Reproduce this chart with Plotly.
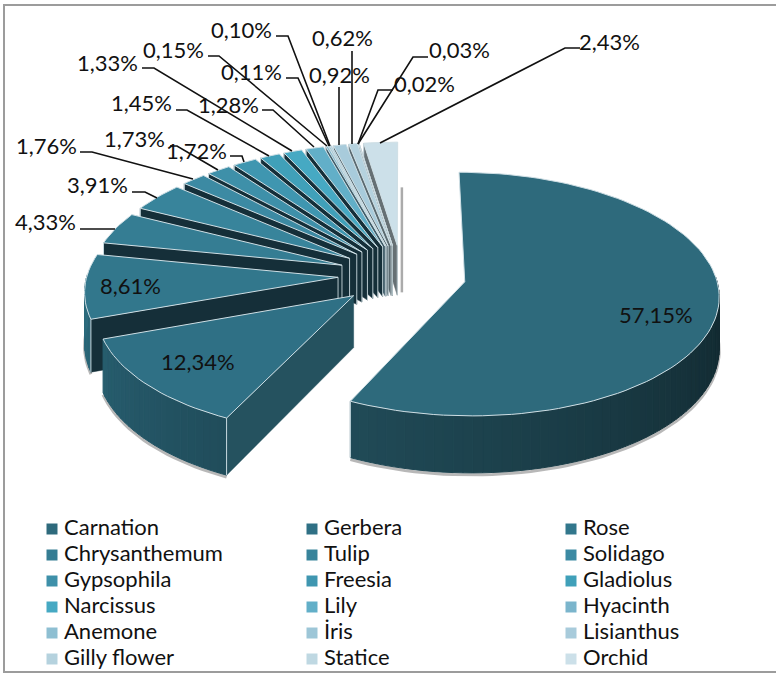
import math
import plotly.graph_objects as go

# ---------- data ----------
categories = ["Carnation", "Gerbera", "Rose", "Chrysanthemum", "Tulip", "Solidago",
              "Gypsophila", "Freesia", "Gladiolus", "Narcissus", "Lily", "Hyacinth",
              "Anemone", "İris", "Lisianthus", "Gilly flower", "Statice", "Orchid"]
# The chart shows 19 value labels but only 18 legend entries.
values = [57.15, 12.34, 8.61, 4.33, 3.91, 1.76, 1.73, 1.72, 1.45, 1.33, 1.28,
          0.15, 0.11, 0.10, 0.92, 0.62, 0.03, 0.02, 2.43]
value_labels = ["57,15%", "12,34%", "8,61%", "4,33%", "3,91%", "1,76%", "1,73%", "1,72%",
                "1,45%", "1,33%", "1,28%", "0,15%", "0,11%", "0,10%", "0,92%", "0,62%",
                "0,03%", "0,02%", "2,43%"]
slice_colors = ["#2e6a7c", "#2f7085", "#32778c", "#357d93", "#38849b", "#3c8aa3",
                "#3e90a9", "#3f96b0", "#40a0b9", "#46a9c3", "#62afc8", "#7bb5cc",
                "#8ebfd2", "#9dc6d7", "#a8cbdb", "#b5d2de", "#bfd8e2", "#c4dbe4", "#cce0e9"]
legend_colors = slice_colors[:17] + slice_colors[18:]

# label centre (x, y) and leader elbow points, in picture pixels
label_pos = [(656, 314), (198, 361), (130, 285), (45, 221), (97, 184), (46, 145), (134, 138),
             (196, 150), (141, 102), (107, 62), (228, 104), (173, 49), (251, 71), (241, 29),
             (339, 74), (342, 37), (459, 49), (424, 83), (609, 41)]
leaders = [None, None, None,
           [(80, 229), (115, 229)],
           [(132, 192), (145, 192), (157, 198)],
           [(80, 152), (92, 152), (193, 179)],
           [(170, 146), (177, 146), (218, 170)],
           [(230, 156), (242, 156), (244, 162)],
           [(176, 110), (187, 110), (269, 156)],
           [(142, 68), (154, 68), (292, 151)],
           [(262, 110), (273, 110), (314, 147)],
           [(208, 56), (219, 56), (327, 146)],
           [(286, 78), (298, 78), (329, 146)],
           [(276, 36), (288, 36), (330, 146)],
           [(339, 87), (339, 145)],
           [(352, 51), (352, 144)],
           [(428, 57), (413, 57), (358, 144)],
           [(393, 90), (378, 90), (358, 144)],
           [(580, 48), (565, 48), (380, 143)]]

# legend grid, in picture pixels
legend_cols = [52, 312, 571]
legend_top = 529
legend_row = 26

# ---------- projection of the tilted 3D pie ----------
CX, CY = 402, 275     # centre of the un-exploded pie
R = 251               # radius
EXPLODE = 64          # pull of each slice
TILT = 0.475          # vertical squash
PERSP = 0.10          # perspective strength
H = 51                # pie thickness


def project(xw, yw, z=0.0):
    d = 1 + PERSP * yw / R
    return CX + xw / d, CY - TILT * yw / d + z / d


def mix(hex_color, f, target=(0, 0, 0)):
    c = [int(hex_color[i:i + 2], 16) for i in (1, 3, 5)]
    return "rgb(%d,%d,%d)" % tuple(round(a + (b - a) * f) for a, b in zip(c, target))


def poly(fig, pts, fill, line=None, width=0.0):
    xs = [p[0] for p in pts] + [pts[0][0]]
    ys = [p[1] for p in pts] + [pts[0][1]]
    fig.add_trace(go.Scatter(x=xs, y=ys, mode="lines", fill="toself", fillcolor=fill,
                             line=dict(color=line or fill, width=width),
                             hoverinfo="skip", showlegend=False))


def stroke(fig, xs, ys, color, width):
    fig.add_trace(go.Scatter(x=xs, y=ys, mode="lines", line=dict(color=color, width=width),
                             hoverinfo="skip", showlegend=False))


def wall_shade(i, tm):
    if i == 0:
        return 0.62 - 0.32 * min(1.0, max(0.0, (math.degrees(tm) - 95) / 110))
    return 0.12 + 0.20 * (1 - (math.degrees(tm) - 205) / 60)


fig = go.Figure()

total = sum(values)
starts, a = [], 0.0
for v in values:
    starts.append(a)
    a += v / total * 360
ends = starts[1:] + [360.0]

# painter's order: far slices first
order = list(range(len(values) - 1, 1, -1)) + [0, 1]
for i in order:
    t0, t1, col = math.radians(starts[i]), math.radians(ends[i]), slice_colors[i]
    m = (t0 + t1) / 2
    ax, ay = EXPLODE * math.sin(m), EXPLODE * math.cos(m)
    n = max(2, int((t1 - t0) / math.radians(2)) + 2)
    angles = [t0 + (t1 - t0) * k / (n - 1) for k in range(n)]
    world = [(ax + R * math.sin(t), ay + R * math.cos(t)) for t in angles]
    top = [project(*w) for w in world]
    low = [project(*w, H) for w in world]
    apex, apex_low = project(ax, ay), project(ax, ay, H)

    # soft shadow below the front wall
    front = [k for k, t in enumerate(angles) if math.cos(t) < 0.05]
    if front:
        stroke(fig, [low[k][0] for k in front], [low[k][1] + 2 for k in front],
               "rgba(125,125,125,0.55)", 3)
        # outer wall: shaded strips, each stroked in its own colour to hide seams
        for k in front[:-1]:
            c = mix(col, wall_shade(i, (angles[k] + angles[k + 1]) / 2))
            poly(fig, [top[k], top[k + 1], low[k + 1], low[k]], c, c, 1.0)

    # start-edge wall, visible on the exploded slices
    if i != 0:
        c = mix(col, 0.50) if i >= 11 else ("#25525f" if i == 1 else "#152f39")
        poly(fig, [apex, top[0], low[0], apex_low], c, c, 0.5)
        stroke(fig, [low[0][0], top[0][0]], [low[0][1], top[0][1]], "#c9dbe1", 1)
        if i >= 2:
            stroke(fig, [apex[0], apex_low[0]], [apex[1], apex_low[1]], "#b9c9cf", 1)
    else:
        stroke(fig, [low[-1][0], top[-1][0]], [low[-1][1], top[-1][1]], "#c9dbe1", 1)

    # top face
    poly(fig, [apex] + top, col, "#cfdfe5", 1)

# faint shadow beside the last slice
ox, oy = project(EXPLODE * math.sin(math.radians(359.9)), EXPLODE * math.cos(math.radians(359.9)))
stroke(fig, [ox, ox], [oy - 58, oy + 47], "#ababab", 2.5)

# leader lines and value labels
for i, pts in enumerate(leaders):
    if pts:
        stroke(fig, [p[0] for p in pts], [p[1] for p in pts], "#111111", 1.6)
    fig.add_annotation(x=label_pos[i][0], y=label_pos[i][1], text=value_labels[i], showarrow=False,
                       xanchor="center", yanchor="middle",
                       font=dict(family="Lato", size=22, color="#111111"))

# legend entries, three columns
for k, (name, col) in enumerate(zip(categories, legend_colors)):
    lx = legend_cols[k % 3]
    ly = legend_top + legend_row * (k // 3)
    fig.add_trace(go.Scatter(x=[lx], y=[ly], mode="markers",
                             marker=dict(symbol="square", size=11, color=col),
                             name=name, hoverinfo="name", showlegend=False))
    fig.add_trace(go.Scatter(x=[lx + 12], y=[ly], mode="text", text=[name],
                             textposition="middle right",
                             textfont=dict(family="Lato", size=22, color="#111111"),
                             hoverinfo="skip", showlegend=False))

fig.update_layout(
    width=776, height=673, autosize=False,
    margin=dict(l=0, r=0, t=0, b=0),
    paper_bgcolor="white", plot_bgcolor="white",
    showlegend=False,
    xaxis=dict(range=[0, 776], visible=False, fixedrange=True),
    yaxis=dict(range=[673, 0], visible=False, fixedrange=True),
    shapes=[dict(type="rect", xref="x", yref="y", x0=4, x1=790, y0=5, y1=672,
                 line=dict(color="#9c9c9c", width=2), layer="above")],
)

# the page's default 8 px body margin would push the figure off the window
fig.write_html("out.html", config=dict(displayModeBar=False),
               post_script="document.body.style.margin='0';document.documentElement.style.overflow='hidden';")
